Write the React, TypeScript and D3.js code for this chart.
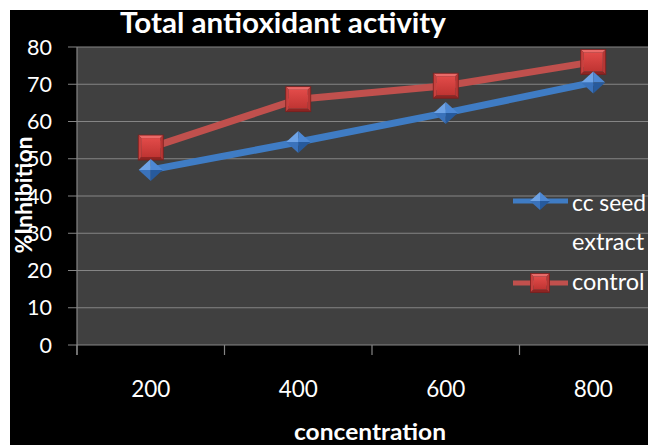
import * as d3 from "d3";

const categories = ["200", "400", "600", "800"];
const ccSeed = [47, 54.5, 62.3, 70.5];
const control = [53, 66, 69.6, 76];
const yTicks = [0, 10, 20, 30, 40, 50, 60, 70, 80];

const W = 648;
const H = 445;
const plot = { left: 77, top: 47, bottom: 345, right: 667 };
const FONT = "Lato, 'Open Sans', sans-serif";

const BLUE = "#3f7cc4";
const RED = "#c0504d";

function Square({ cx, cy, s }: { cx: number; cy: number; s: number }) {
  const h = s / 2;
  const b = 3;
  const x0 = cx - h, x1 = cx + h, y0 = cy - h, y1 = cy + h;
  return (
    <g>
      <polygon points={`${x0},${y0} ${x1},${y0} ${x1 - b},${y0 + b} ${x0 + b},${y0 + b}`} fill="#ea6a68" />
      <polygon points={`${x0},${y0} ${x0 + b},${y0 + b} ${x0 + b},${y1 - b} ${x0},${y1}`} fill="#c8403e" />
      <polygon points={`${x1},${y0} ${x1},${y1} ${x1 - b},${y1 - b} ${x1 - b},${y0 + b}`} fill="#b83634" />
      <polygon points={`${x0},${y1} ${x0 + b},${y1 - b} ${x1 - b},${y1 - b} ${x1},${y1}`} fill="#8e2422" />
      <rect x={x0 + b} y={y0 + b} width={s - 2 * b} height={s - 2 * b} fill="url(#sqGrad)" />
      <rect x={x0} y={y0} width={s} height={s} fill="none" stroke="#7a1f1d" strokeWidth={0.8} />
    </g>
  );
}

function Diamond({ cx, cy, w, hgt }: { cx: number; cy: number; w: number; hgt: number }) {
  const a = w / 2;
  const v = hgt / 2;
  return (
    <g>
      <polygon points={`${cx - a},${cy} ${cx},${cy - v} ${cx},${cy}`} fill="#6ea3e6" />
      <polygon points={`${cx},${cy - v} ${cx + a},${cy} ${cx},${cy}`} fill="#4d88d4" />
      <polygon points={`${cx - a},${cy} ${cx},${cy + v} ${cx},${cy}`} fill="#3a72bb" />
      <polygon points={`${cx + a},${cy} ${cx},${cy + v} ${cx},${cy}`} fill="#275a9c" />
    </g>
  );
}

export default function App() {
  const x = d3
    .scaleBand<string>()
    .domain(categories)
    .range([plot.left, plot.right])
    .paddingInner(0)
    .paddingOuter(0);
  const y = d3.scaleLinear().domain([0, 80]).range([plot.bottom, plot.top]);
  const cxOf = (c: string) => (x(c) ?? 0) + x.bandwidth() / 2;

  const line = d3
    .line<number>()
    .x((_, i) => cxOf(categories[i]))
    .y((d) => y(d));

  const boundaries = categories.map((c) => x(c) ?? 0);

  return (
    <div style={{ position: "fixed", left: 0, top: 0 }}>
      <svg width={W} height={H} style={{ display: "block" }}>
        <defs>
          <linearGradient id="sqGrad" x1="0" y1="0" x2="0" y2="1">
            <stop offset="0" stopColor="#e24b49" />
            <stop offset="1" stopColor="#bf3432" />
          </linearGradient>
        </defs>
        <rect x={0} y={0} width={W} height={H} fill="#ffffff" />
        <rect x={10} y={10} width={W - 10} height={H - 10} fill="#000000" />
        <rect
          x={plot.left}
          y={plot.top}
          width={plot.right - plot.left}
          height={plot.bottom - plot.top}
          fill="#404040"
        />
        {yTicks.map((t) => (
          <g key={t}>
            <line
              x1={plot.left - 9}
              x2={plot.right}
              y1={y(t)}
              y2={y(t)}
              stroke="#858585"
              strokeWidth={1.2}
            />
            <text
              x={52}
              y={y(t)}
              dy="0.36em"
              textAnchor="end"
              fill="#ffffff"
              fontFamily={FONT}
              fontSize={21.5}
            >
              {t}
            </text>
          </g>
        ))}
        <line x1={plot.left} x2={plot.left} y1={plot.top} y2={plot.bottom + 10} stroke="#858585" strokeWidth={1.2} />
        {boundaries.map((b) => (
          <line key={b} x1={b} x2={b} y1={plot.bottom} y2={plot.bottom + 10} stroke="#858585" strokeWidth={1.2} />
        ))}
        {categories.map((c) => (
          <text
            key={c}
            x={cxOf(c)}
            y={397}
            textAnchor="middle"
            fill="#ffffff"
            fontFamily={FONT}
            fontSize={22.5}
          >
            {c}
          </text>
        ))}

        <path d={line(control) ?? ""} fill="none" stroke={RED} strokeWidth={7} strokeLinejoin="round" />
        <path d={line(ccSeed) ?? ""} fill="none" stroke={BLUE} strokeWidth={7} strokeLinejoin="round" />
        {control.map((v, i) => (
          <Square key={`s${i}`} cx={cxOf(categories[i])} cy={y(v)} s={25} />
        ))}
        {ccSeed.map((v, i) => (
          <Diamond key={`d${i}`} cx={cxOf(categories[i])} cy={y(v)} w={24} hgt={22} />
        ))}

        <text
          x={283}
          y={33}
          textAnchor="middle"
          fill="#ffffff"
          fontFamily={FONT}
          fontWeight="bold"
          fontSize={28}
          textLength={326}
          lengthAdjust="spacingAndGlyphs"
        >
          Total antioxidant activity
        </text>
        <text
          transform="translate(32,195) rotate(-90)"
          textAnchor="middle"
          fill="#ffffff"
          fontFamily={FONT}
          fontWeight="bold"
          fontSize={23}
        >
          %Inhibition
        </text>
        <text
          x={370}
          y={440}
          textAnchor="middle"
          fill="#ffffff"
          fontFamily={FONT}
          fontWeight="bold"
          fontSize={23}
          textLength={152}
          lengthAdjust="spacingAndGlyphs"
        >
          concentration
        </text>

        <g>
          <line x1={513} x2={568} y1={201} y2={201} stroke={BLUE} strokeWidth={5} />
          <Diamond cx={540} cy={201} w={20} hgt={18} />
          <text x={572} y={211} fill="#ffffff" fontFamily={FONT} fontSize={23.5} textLength={74} lengthAdjust="spacingAndGlyphs">cc seed</text>
          <text x={572} y={250} fill="#ffffff" fontFamily={FONT} fontSize={23.5}>extract</text>
          <line x1={513} x2={568} y1={283} y2={283} stroke={RED} strokeWidth={5} />
          <Square cx={540} cy={283} s={19} />
          <text x={572} y={290} fill="#ffffff" fontFamily={FONT} fontSize={23.5}>control</text>
        </g>
      </svg>
    </div>
  );
}
